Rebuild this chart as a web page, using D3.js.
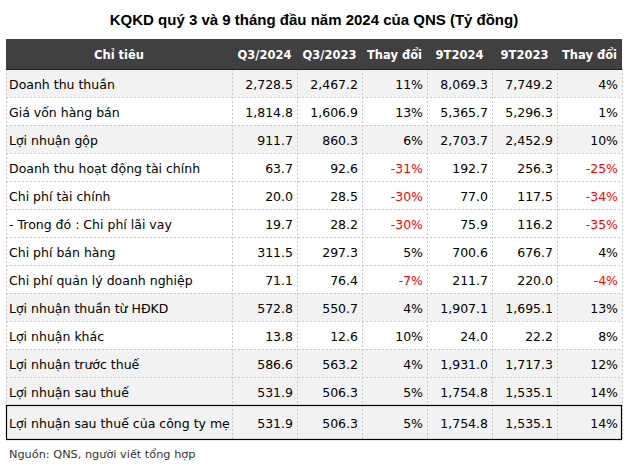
<!DOCTYPE html>
<html>
<head>
<meta charset="utf-8">
<script src="https://cdn.jsdelivr.net/npm/d3@7"></script>
<style>
  body { margin: 0; background: #fff; }
  svg { display: block; }
</style>
</head>
<body>
<svg id="chart" width="627" height="466"></svg>
<script>
const title = "KQKD quý 3 và 9 tháng đầu năm 2024 của QNS (Tỷ đồng)";
const source = "Nguồn: QNS, người viết tổng hợp";
const headers = ["Chỉ tiêu", "Q3/2024", "Q3/2023", "Thay đổi", "9T2024", "9T2023", "Thay đổi"];

const items = [
    "Doanh thu thuần",
    "Giá vốn hàng bán",
    "Lợi nhuận gộp",
    "Doanh thu hoạt động tài chính",
    "Chi phí tài chính",
    "- Trong đó : Chi phí lãi vay",
    "Chi phí bán hàng",
    "Chi phí quản lý doanh nghiệp",
    "Lợi nhuận thuần từ HĐKD",
    "Lợi nhuận khác",
    "Lợi nhuận trước thuế",
    "Lợi nhuận sau thuế",
    "Lợi nhuận sau thuế của công ty mẹ"
];
const q3_2024 = [2728.5, 1814.8, 911.7, 63.7, 20.0, 19.7, 311.5, 71.1, 572.8, 13.8, 586.6, 531.9, 531.9];
const q3_2023 = [2467.2, 1606.9, 860.3, 92.6, 28.5, 28.2, 297.3, 76.4, 550.7, 12.6, 563.2, 506.3, 506.3];
const q3Change = [11, 13, 6, -31, -30, -30, 5, -7, 4, 10, 4, 5, 5];
const m9_2024 = [8069.3, 5365.7, 2703.7, 192.7, 77.0, 75.9, 700.6, 211.7, 1907.1, 24.0, 1931.0, 1754.8, 1754.8];
const m9_2023 = [7749.2, 5296.3, 2452.9, 256.3, 117.5, 116.2, 676.7, 220.0, 1695.1, 22.2, 1717.3, 1535.1, 1535.1];
const m9Change = [4, 1, 10, -25, -34, -35, 4, -4, 13, 8, 12, 14, 14];
// rows with the grey band
const shaded = [true, false, true, false, false, false, false, false, true, false, true, true, true];

const svg = d3.select("#chart");
const fmtNum = d3.format(",.1f");
const fmtPct = d => d + "%";

const left = 6, right = 622, firstColRight = 232;
const headTop = 39, headBottom = 69, rowH = 28, lastRowH = 35;
const nRegular = items.length - 1;

const colKeys = headers.slice(1);
const x = d3.scaleBand().domain(d3.range(colKeys.length)).range([firstColRight, right]);
const y = d3.scaleLinear().domain([0, nRegular]).range([headBottom, headBottom + nRegular * rowH]);
const rowTop = i => y(i);
const rowHeight = i => i < nRegular ? rowH : lastRowH;

const rows = items.map((name, i) => ({
    name, i,
    cells: [
        { v: fmtNum(q3_2024[i]), neg: false },
        { v: fmtNum(q3_2023[i]), neg: false },
        { v: fmtPct(q3Change[i]), neg: q3Change[i] < 0 },
        { v: fmtNum(m9_2024[i]), neg: false },
        { v: fmtNum(m9_2023[i]), neg: false },
        { v: fmtPct(m9Change[i]), neg: m9Change[i] < 0 }
    ]
}));

// Title
svg.append("text")
    .attr("x", 314)
    .attr("y", 25)
    .attr("text-anchor", "middle")
    .attr("font-family", "Liberation Sans, Arial, sans-serif")
    .attr("font-weight", "bold")
    .attr("font-size", 15)
    .attr("fill", "#000")
    .text(title);

// Header
svg.append("rect")
    .attr("x", left).attr("y", headTop)
    .attr("width", right - left).attr("height", headBottom - headTop)
    .attr("fill", "#404040");

svg.selectAll(".head-text")
    .data(headers)
    .join("text")
    .attr("class", "head-text")
    .attr("x", (d, i) => i === 0 ? (left + firstColRight) / 2 : x(i - 1) + x.bandwidth() / 2)
    .attr("y", (headTop + headBottom) / 2 + 1)
    .attr("dominant-baseline", "central")
    .attr("text-anchor", "middle")
    .attr("font-family", "DejaVu Sans, sans-serif")
    .attr("font-weight", "bold")
    .attr("font-size", 11.5)
    .attr("fill", "#fff")
    .text(d => d);

// Row backgrounds
svg.selectAll(".row-bg")
    .data(rows)
    .join("rect")
    .attr("class", "row-bg")
    .attr("x", left).attr("y", d => rowTop(d.i))
    .attr("width", right - left).attr("height", d => rowHeight(d.i))
    .attr("fill", d => shaded[d.i] ? "#f2f2f2" : "#fff");

// Dotted grid
const gridColor = "#c8c8c8";
const bodyBottom = rowTop(nRegular) + lastRowH;
svg.selectAll(".hgrid")
    .data(d3.range(1, nRegular))
    .join("line")
    .attr("class", "hgrid")
    .attr("x1", left).attr("x2", right)
    .attr("y1", d => rowTop(d) + 0.5).attr("y2", d => rowTop(d) + 0.5)
    .attr("stroke", gridColor)
    .attr("stroke-dasharray", "2,2");

const vLines = [left, ...colKeys.map((_, i) => x(i)), right];
svg.selectAll(".vgrid")
    .data(vLines)
    .join("line")
    .attr("class", "vgrid")
    .attr("x1", d => d + 0.5).attr("x2", d => d + 0.5)
    .attr("y1", headBottom).attr("y2", bodyBottom)
    .attr("stroke", gridColor)
    .attr("stroke-dasharray", "2,2");

// Header bottom rule
svg.append("line")
    .attr("x1", left).attr("x2", right)
    .attr("y1", headBottom + 0.5).attr("y2", headBottom + 0.5)
    .attr("stroke", "#222");

// Last row box
svg.append("rect")
    .attr("x", left + 0.5).attr("y", rowTop(nRegular) + 0.5)
    .attr("width", right - left - 1).attr("height", lastRowH - 1)
    .attr("fill", "none")
    .attr("stroke", "#000")
    .attr("stroke-width", 1.2);

// Labels
const bodyFont = "DejaVu Sans, sans-serif";
svg.selectAll(".row-label")
    .data(rows)
    .join("text")
    .attr("class", "row-label")
    .attr("x", left + 3)
    .attr("y", d => rowTop(d.i) + rowHeight(d.i) / 2 + 1)
    .attr("dominant-baseline", "central")
    .attr("font-family", bodyFont)
    .attr("font-size", 12.5)
    .attr("fill", "#000")
    .text(d => d.name);

// Values
const cellGroups = svg.selectAll(".row-cells")
    .data(rows)
    .join("g")
    .attr("class", "row-cells")
    .attr("transform", d => `translate(0,${rowTop(d.i) + rowHeight(d.i) / 2 + 1})`);

cellGroups.selectAll("text")
    .data(d => d.cells)
    .join("text")
    .attr("x", (d, j) => x(j) + x.bandwidth() - 4)
    .attr("y", 0)
    .attr("dominant-baseline", "central")
    .attr("text-anchor", "end")
    .attr("font-family", bodyFont)
    .attr("font-size", 12.5)
    .attr("fill", d => d.neg ? "#ff0000" : "#000")
    .text(d => d.v);

// Source
svg.append("text")
    .attr("x", 9)
    .attr("y", 458)
    .attr("font-family", bodyFont)
    .attr("font-size", 11.3)
    .attr("fill", "#333")
    .text(source);
</script>
</body>
</html>
